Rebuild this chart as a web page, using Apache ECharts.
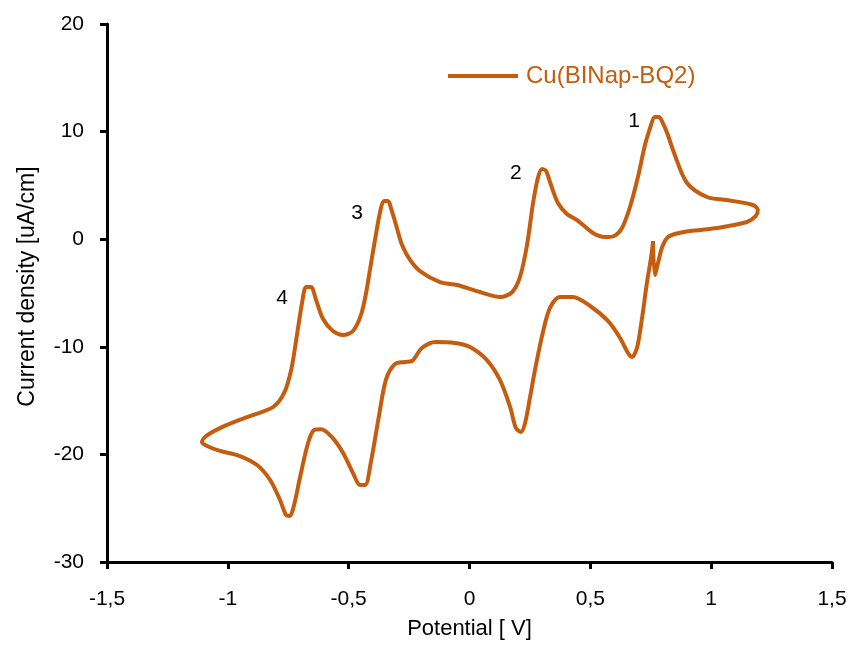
<!DOCTYPE html>
<html>
<head>
<meta charset="utf-8">
<script src="https://cdn.jsdelivr.net/npm/echarts@6/dist/echarts.min.js"></script>
<style>
  html, body { margin: 0; padding: 0; background: #fff; }
  #chart { width: 854px; height: 645px; }
</style>
</head>
<body>
<div id="chart"></div>
<script>
// Cyclic voltammogram of Cu(BINap-BQ2), traced in scan order
const seriesName = 'Cu(BINap-BQ2)';
const potential = [
  0.759, 0.767, 0.780, 0.796, 0.817, 0.850, 0.912, 1.024, 1.148, 1.185,
  1.193, 1.173, 1.065, 0.983, 0.900, 0.842, 0.821, 0.796, 0.784, 0.767,
  0.747, 0.726, 0.697, 0.664, 0.631, 0.598, 0.561, 0.511, 0.445, 0.403,
  0.366, 0.333, 0.317, 0.300, 0.283, 0.263, 0.238, 0.209, 0.176, 0.126,
  0.043, -0.052, -0.122, -0.205, -0.246, -0.279, -0.304, -0.325, -0.337, -0.354,
  -0.370, -0.391, -0.412, -0.428, -0.449, -0.482, -0.523, -0.565, -0.606, -0.635,
  -0.656, -0.676, -0.693, -0.714, -0.738, -0.767, -0.813, -0.921, -1.024, -1.090,
  -1.107, -1.086, -1.032, -0.950, -0.879, -0.825, -0.784, -0.759, -0.743, -0.726,
  -0.701, -0.668, -0.643, -0.614, -0.569, -0.523, -0.482, -0.453, -0.432, -0.408,
  -0.374, -0.345, -0.308, -0.267, -0.238, -0.197, -0.139, -0.060, 0.002, 0.072,
  0.126, 0.168, 0.192, 0.213, 0.230, 0.250, 0.275, 0.304, 0.333, 0.374,
  0.428, 0.499, 0.573, 0.623, 0.656, 0.672, 0.693, 0.714, 0.734, 0.751,
  0.759
];
const current = [
  -0.17, -3.33, -2.21, -0.82, 0.11, 0.48, 0.76, 1.04, 1.60, 2.16,
  2.71, 3.18, 3.64, 3.92, 5.22, 8.29, 9.68, 10.99, 11.36, 11.36,
  10.33, 8.75, 5.78, 2.99, 1.04, 0.30, 0.20, 0.58, 1.78, 2.34,
  3.36, 5.31, 6.34, 6.52, 5.69, 3.36, -0.54, -3.51, -4.93, -5.37,
  -4.91, -4.26, -3.98, -2.96, -1.93, -0.54, 1.32, 2.90, 3.55, 3.55,
  2.53, -0.07, -2.86, -5.00, -7.04, -8.53, -8.90, -8.53, -7.42, -5.65,
  -4.44, -4.44, -5.93, -8.90, -12.16, -14.29, -15.60, -16.53, -17.46, -18.29,
  -18.85, -19.22, -19.68, -20.15, -20.99, -22.38, -24.24, -25.63, -25.72, -24.70,
  -22.10, -18.94, -17.73, -17.66, -18.40, -19.87, -21.73, -22.84, -22.84, -20.71,
  -16.34, -13.00, -11.60, -11.41, -11.32, -10.11, -9.55, -9.65, -10.02, -11.23,
  -13.08, -15.59, -17.55, -17.92, -17.08, -14.75, -11.69, -8.62, -6.39, -5.37,
  -5.37, -6.21, -7.60, -9.18, -10.58, -10.95, -10.11, -7.32, -4.07, -1.75,
  -0.35
];
// Peak numbers and where they sit (V, uA/cm)
const peakLabels = ['1', '2', '3', '4'];
const peakLabelPotential = [0.681, 0.192, -0.465, -0.776];
const peakLabelCurrent = [10.98, 6.15, 2.43, -5.46];

const lineColor = '#C65D0E';
const font = '"Liberation Sans", Arial, sans-serif';

const chart = echarts.init(document.getElementById('chart'));
const commaDecimal = v => String(Math.round(v * 10) / 10).replace('.', ',');

chart.setOption({
  animation: false,
  backgroundColor: '#ffffff',
  grid: { left: 107, right: 22, top: 24, bottom: 83 },
  legend: {
    left: 443, top: 59,
    icon: 'rect', itemWidth: 70, itemHeight: 4, itemGap: 8,
    data: [seriesName],
    textStyle: { color: lineColor, fontSize: 24, fontFamily: font, padding: [0, 0, 0, 3] }
  },
  xAxis: {
    type: 'value', min: -1.5, max: 1.5, interval: 0.5,
    name: 'Potential [ V]', nameLocation: 'middle', nameGap: 56,
    nameTextStyle: { color: '#000', fontSize: 22, fontFamily: font },
    axisLine: { onZero: false, lineStyle: { color: '#000', width: 3 } },
    axisTick: { show: true, length: 7, lineStyle: { color: '#000', width: 3 } },
    axisLabel: { color: '#000', fontSize: 21, fontFamily: font, margin: 27, formatter: commaDecimal },
    splitLine: { show: false }
  },
  yAxis: {
    type: 'value', min: -30, max: 20, interval: 10,
    name: 'Current density [uA/cm]', nameLocation: 'middle', nameGap: 68,
    nameTextStyle: { color: '#000', fontSize: 23, fontFamily: font, padding: [0, 0, 0, 13] },
    axisLine: { onZero: false, lineStyle: { color: '#000', width: 3 } },
    axisTick: { show: true, length: 7, lineStyle: { color: '#000', width: 3 } },
    axisLabel: { color: '#000', fontSize: 21, fontFamily: font, margin: 23 },
    splitLine: { show: false }
  },
  series: [{
    name: seriesName,
    type: 'line',
    data: potential.map((v, i) => [v, current[i]]),
    showSymbol: false,
    smooth: 0.3,
    lineStyle: { color: lineColor, width: 4 },
    itemStyle: { color: lineColor },
    markPoint: {
      symbol: 'circle', symbolSize: 0,
      label: { show: true, color: '#000', fontSize: 21, fontFamily: font, formatter: p => p.name },
      data: peakLabels.map((t, i) => ({ name: t, coord: [peakLabelPotential[i], peakLabelCurrent[i]] }))
    }
  }]
});
</script>
</body>
</html>
